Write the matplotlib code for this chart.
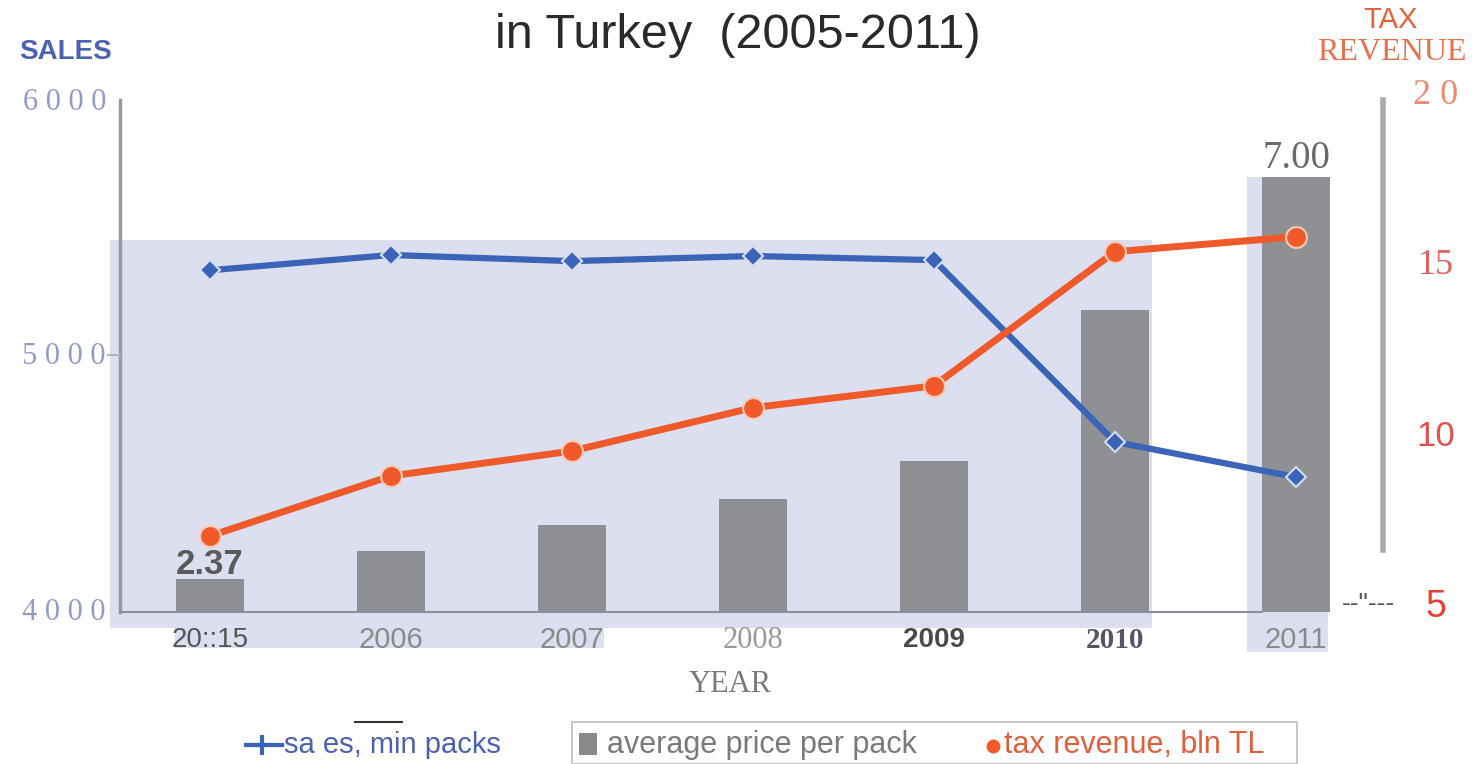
import matplotlib
matplotlib.use("Agg")
import matplotlib.pyplot as plt
import matplotlib.transforms as mtrans
from matplotlib.patches import Rectangle
from matplotlib.lines import Line2D

# ---------------- data ----------------
years = [2005, 2006, 2007, 2008, 2009, 2010, 2011]
year_labels = ["20::15", "2006", "2007", "2008", "2009", "2010", "2011"]
sales = [5340, 5400, 5376, 5396, 5380, 4667, 4529]          # mln packs
price = [2.37, 2.69, 2.99, 3.29, 3.73, 5.47, 7.00]          # avg price per pack
tax = [7.08, 8.84, 9.57, 10.84, 11.48, 15.41, 15.85]        # bln TL
sales_ticks = [4000, 5000, 6000]
tax_ticks = [5, 10, 15, 20]
price_labels = {2005: "2.37", 2011: "7.00"}

W, H = 1476, 764
fig = plt.figure(figsize=(W / 100, H / 100), dpi=100)


def fx(x):
    return x / W


def fy(y):
    return 1 - y / H


BLUE = "#3b63b8"
ORANGE = "#f0592a"
GRAY_BAR = "#8f9094"
LAV = "#dcdff0"

pos = [fx(120), fy(612), (1383 - 120) / W, (612 - 102) / H]
xlim = (2004.503, 2011.481)

# background shading (figure-level, behind axes)
for (x0, y0, x1, y1) in [(110, 240, 1152, 628), (175, 628, 604, 648), (1247, 177, 1328, 652)]:
    fig.add_artist(Rectangle((fx(x0), fy(y1)), fx(x1) - fx(x0), fy(y0) - fy(y1),
                             transform=fig.transFigure, facecolor=LAV, edgecolor="none", zorder=-5))

# bars axis
axb = fig.add_axes(pos)
axb.set_xlim(*xlim)
axb.set_ylim(1.99, 1.99 + 510 / 86.8)
axb.bar(years, price, width=0.38, color=GRAY_BAR, zorder=2)
axb.axis("off")
btr = mtrans.blended_transform_factory(axb.transData, fig.transFigure)
axb.text(2005, fy(564), price_labels[2005], transform=btr, ha="center", va="center",
         fontsize=25, fontweight="bold", color="#5a5a5a", family="Liberation Sans")
axb.text(2011, fy(158), price_labels[2011], transform=btr, ha="center", va="center",
         fontsize=28, color="#6a6a6a", family="Liberation Serif")

# sales axis
ax = fig.add_axes(pos)
ax.set_facecolor("none")
ax.set_xlim(*xlim)
ax.set_ylim(4000, 6000)
ax.plot(years, sales, color=BLUE, lw=4.5, marker="D", ms=10, mfc=BLUE,
        mec="#d5ddf3", mew=1.5, zorder=3, solid_joinstyle="round")
for s in ax.spines.values():
    s.set_visible(False)
ax.set_xticks([])
ax.set_yticks([])
for t in sales_ticks:
    ax.text(fx(106), t, " ".join(str(t)),
            transform=mtrans.blended_transform_factory(fig.transFigure, ax.transData),
            ha="right", va="center", fontsize=22, color="#939cc6", family="Liberation Serif")

# x labels
xl_styles = [
    dict(family="Liberation Sans", color="#555555", fontweight="normal", fontsize=20),
    dict(family="Liberation Sans", color="#8a8a8a", fontweight="normal", fontsize=21),
    dict(family="Liberation Sans", color="#8a8a8a", fontweight="normal", fontsize=21),
    dict(family="Liberation Serif", color="#9a9a9a", fontweight="normal", fontsize=22),
    dict(family="Liberation Sans", color="#4a4a4a", fontweight="bold", fontsize=20),
    dict(family="Liberation Serif", color="#555566", fontweight="bold", fontsize=21),
    dict(family="Liberation Sans", color="#8a8a8a", fontweight="normal", fontsize=21),
]
xtr = mtrans.blended_transform_factory(ax.transData, fig.transFigure)
for yr, lab, st in zip(years, year_labels, xl_styles):
    ax.text(yr, fy(640), lab, transform=xtr, ha="center", va="center", **st)

# tax axis
ax2 = fig.add_axes(pos)
ax2.set_facecolor("none")
ax2.set_xlim(*xlim)
ax2.set_ylim(5 - 5 / 34.13, 5 + 505 / 34.13)
ax2.plot(years, tax, color=ORANGE, lw=5, marker="o", ms=15, mfc=ORANGE,
         mec="#f8cbb5", mew=1.5, zorder=4, solid_joinstyle="round")
ax2.axis("off")
tax_styles = {
    20: dict(family="Liberation Serif", color="#ec8a72", fontsize=26, text="2 0"),
    15: dict(family="Liberation Serif", color="#e06262", fontsize=26, text="15"),
    10: dict(family="Liberation Sans", color="#e05252", fontsize=25, text="10"),
    5: dict(family="Liberation Sans", color="#e8402c", fontsize=27, text="5"),
}
ytr = mtrans.blended_transform_factory(fig.transFigure, ax2.transData)
for t in tax_ticks:
    st = dict(tax_styles[t])
    label = st.pop("text")
    ax2.text(fx(1436), t, label, transform=ytr, ha="center", va="center", clip_on=False, **st)

# axis lines
fig.add_artist(Line2D([fx(120), fx(120)], [fy(100), fy(612)], color="#9a9a9a", lw=2.5, zorder=5))
fig.add_artist(Line2D([fx(108), fx(120)], [fy(355), fy(355)], color="#b0b4c8", lw=1.5, zorder=5))
fig.add_artist(Line2D([fx(120), fx(1262)], [fy(612), fy(612)], color="#8a8ea0", lw=1.5, zorder=5))
fig.add_artist(Line2D([fx(1383), fx(1383)], [fy(100), fy(550)], color="#aaaaaa", lw=4, zorder=5))
fig.text(fx(1368), fy(604), "--\"---", ha="center", va="center", fontsize=19, color="#555555",
         family="Liberation Sans")

# titles / axis titles
fig.text(0.5, fy(35), "in Turkey  (2005-2011)", ha="center", va="center", fontsize=35,
         color="#2a2a2a", family="Liberation Sans")
fig.text(fx(66), fy(52), "SALES", ha="center", va="center", fontsize=20, fontweight="bold",
         color="#4a63b0", family="Liberation Sans")
fig.text(fx(1391), fy(20), "TAX", ha="center", va="center", fontsize=21,
         color="#e8603a", family="Liberation Sans")
fig.text(fx(1392), fy(52), "REVENUE", ha="center", va="center", fontsize=23,
         color="#e8704c", family="Liberation Serif")
fig.text(fx(730), fy(684), "YEAR", ha="center", va="center", fontsize=22,
         color="#7a7a7a", family="Liberation Serif")

# legend
fig.add_artist(Line2D([fx(246), fx(282)], [fy(745), fy(745)], color=BLUE, lw=3))
fig.add_artist(Line2D([fx(262)], [fy(745)], color=BLUE, marker="+", ms=14, mew=3))
fig.add_artist(Line2D([fx(355), fx(402)], [fy(722), fy(722)], color="#333333", lw=1.5))
fig.text(fx(284), fy(745), "sa es, min packs", ha="left", va="center", fontsize=21,
         color="#4a62b0", family="Liberation Sans")
fig.add_artist(Rectangle((fx(572), fy(764)), fx(1297) - fx(572), fy(722) - fy(764),
                         transform=fig.transFigure, facecolor="white", edgecolor="#c8c8cc", lw=1.5))
fig.add_artist(Rectangle((fx(579), fy(755)), fx(597) - fx(579), fy(733) - fy(755),
                         transform=fig.transFigure, facecolor="#8a8a8a", edgecolor="none"))
fig.text(fx(607), fy(745), "average price per pack", ha="left", va="center", fontsize=22,
         color="#7a7a7a", family="Liberation Sans")
fig.add_artist(Line2D([fx(993)], [fy(746)], color=ORANGE, marker="o", ms=9, lw=0))
fig.text(fx(1004), fy(745), "tax revenue, bln TL", ha="left", va="center", fontsize=22,
         color="#e0603e", family="Liberation Sans")

fig.savefig("out.png", dpi=100)
